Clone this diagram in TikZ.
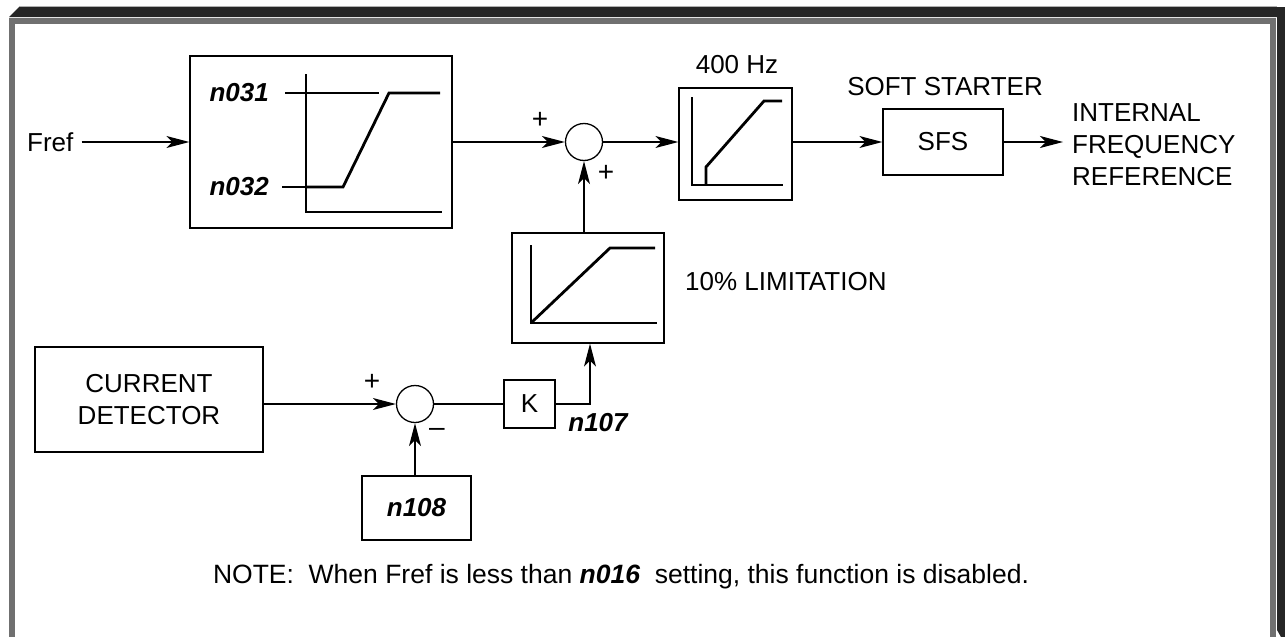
\documentclass[tikz,border=0pt]{standalone}
\usepackage{fontspec}
\setmainfont{Liberation Sans}
\usetikzlibrary{arrows.meta}
\definecolor{framedark}{HTML}{262626}
\definecolor{framegray}{HTML}{707070}
\definecolor{framelight}{HTML}{B0B0B0}
\begin{document}
\begin{tikzpicture}[x=1pt,y=-1pt,
  every node/.style={font=\fontsize{26}{32}\selectfont, inner sep=0pt},
  blk/.style={draw, line width=1.3pt},
  sumc/.style={draw, circle, minimum size=37pt, inner sep=0pt, line width=1.3pt},
  thinln/.style={line width=1.3pt},
  graphln/.style={line width=2.8pt, line join=miter},
  arr/.style={line width=1.3pt, -{Stealth[length=23pt,width=12pt,inset=6pt]}},
  lbl/.style={font=\fontsize{26}{32}\selectfont\bfseries\itshape},
  sign/.style={font=\fontsize{28}{32}\selectfont}
]
\useasboundingbox (0,0) rectangle (1285,637);
% frame
\fill[framedark] (9,17) -- (19,7) -- (1285,7) -- (1285,637) -- (1281,637) -- (1277,630) -- (1277,17) -- cycle;
\draw[framelight, line width=0.8pt] (19,6.6) -- (1277,6.6);
\draw[framegray, line width=5.5pt] (11.75,640) -- (11.75,20.75) -- (1272.75,20.75) -- (1272.75,640);

% first block
\node[blk, minimum width=262pt, minimum height=172pt] (b1) at (321,142) {};
\draw[thinln] (306,74) -- (306,212) -- (442,212);
\draw[thinln] (285,93) -- (379,93);
\draw[thinln] (282,187) -- (306,187);
\draw[graphln] (306,187) -- (343,187) -- (389,93) -- (440,93);
\node[lbl, anchor=east] (l031) at (269,93) {n031};
\node[lbl, anchor=east] (l032) at (269,187) {n032};

\node[anchor=west] (fref) at (27,142) {Fref};
\draw[arr] ([xshift=8pt]fref.east) -- (b1.west);

% summing point 1
\node[sumc] (s1) at (584,142) {};
\draw[arr] (b1.east) -- (s1.west);
\node[sign] (p1) at (540,120) {+};
\node[sign] (p2) at (606,173) {+};

% 400 Hz block
\node[blk, minimum width=113pt, minimum height=112pt] (hz) at (735.5,144) {};
\draw[thinln] (692,97) -- (692,185) -- (783,185);
\draw[graphln] (706,185) -- (706,167) -- (764,101) -- (782,101);
\node (hzl) at (737,65) {400 Hz};
\draw[arr] (s1.east) -- (s1.east -| hz.west);

% soft starter
\node[blk, minimum width=120pt, minimum height=66pt] (sfs) at (943,142) {SFS};
\node (ss) at (945,87) {SOFT STARTER};
\draw[arr] (hz.east |- sfs.west) -- (sfs.west);
\node[anchor=west, align=left] (ifr) at (1072,145) {INTERNAL\\FREQUENCY\\REFERENCE};
\draw[arr] (sfs.east) -- ([xshift=-9pt]ifr.west |- sfs.east);

% limitation block
\node[blk, minimum width=152pt, minimum height=110pt] (lim) at (588,288) {};
\draw[thinln] (531,245) -- (531,323) -- (657,323);
\draw[graphln] (531,323) -- (610,248) -- (655,248);
\draw[arr] (lim.north -| s1) -- (s1.south);
\node[anchor=west] (liml) at (685,282) {10\% LIMITATION};

% current detector
\node[blk, minimum width=228pt, minimum height=105pt, align=center] (cd) at (149,399.5) {CURRENT\\DETECTOR};
\node[sumc] (s2) at (415,404) {};
\draw[arr] (cd.east |- s2.west) -- (s2.west);
\node[sign] (p3) at (372,382) {+};
\node[sign] (m1) at (437,432) {--};

% K
\node[blk, minimum width=51pt, minimum height=48pt] (k) at (529.5,404) {K};
\draw[thinln] (s2.east) -- (k.west);
\coordinate (kc) at (590,404);
\draw[arr] (k.east) -- (kc) -- (kc |- lim.south);
\node[lbl] (l107) at (598,423) {n107};

% n108
\node[blk, lbl, minimum width=109pt, minimum height=64pt] (n8) at (416.5,508) {n108};
\draw[arr] (n8.north -| s2) -- (s2.south);

% note
\node[font=\fontsize{26.5}{32}\selectfont] (note) at (621,577) {NOTE:\ \ When Fref is less than {\bfseries\itshape n016}\ \ setting, this function is disabled.};
\end{tikzpicture}
\end{document}
